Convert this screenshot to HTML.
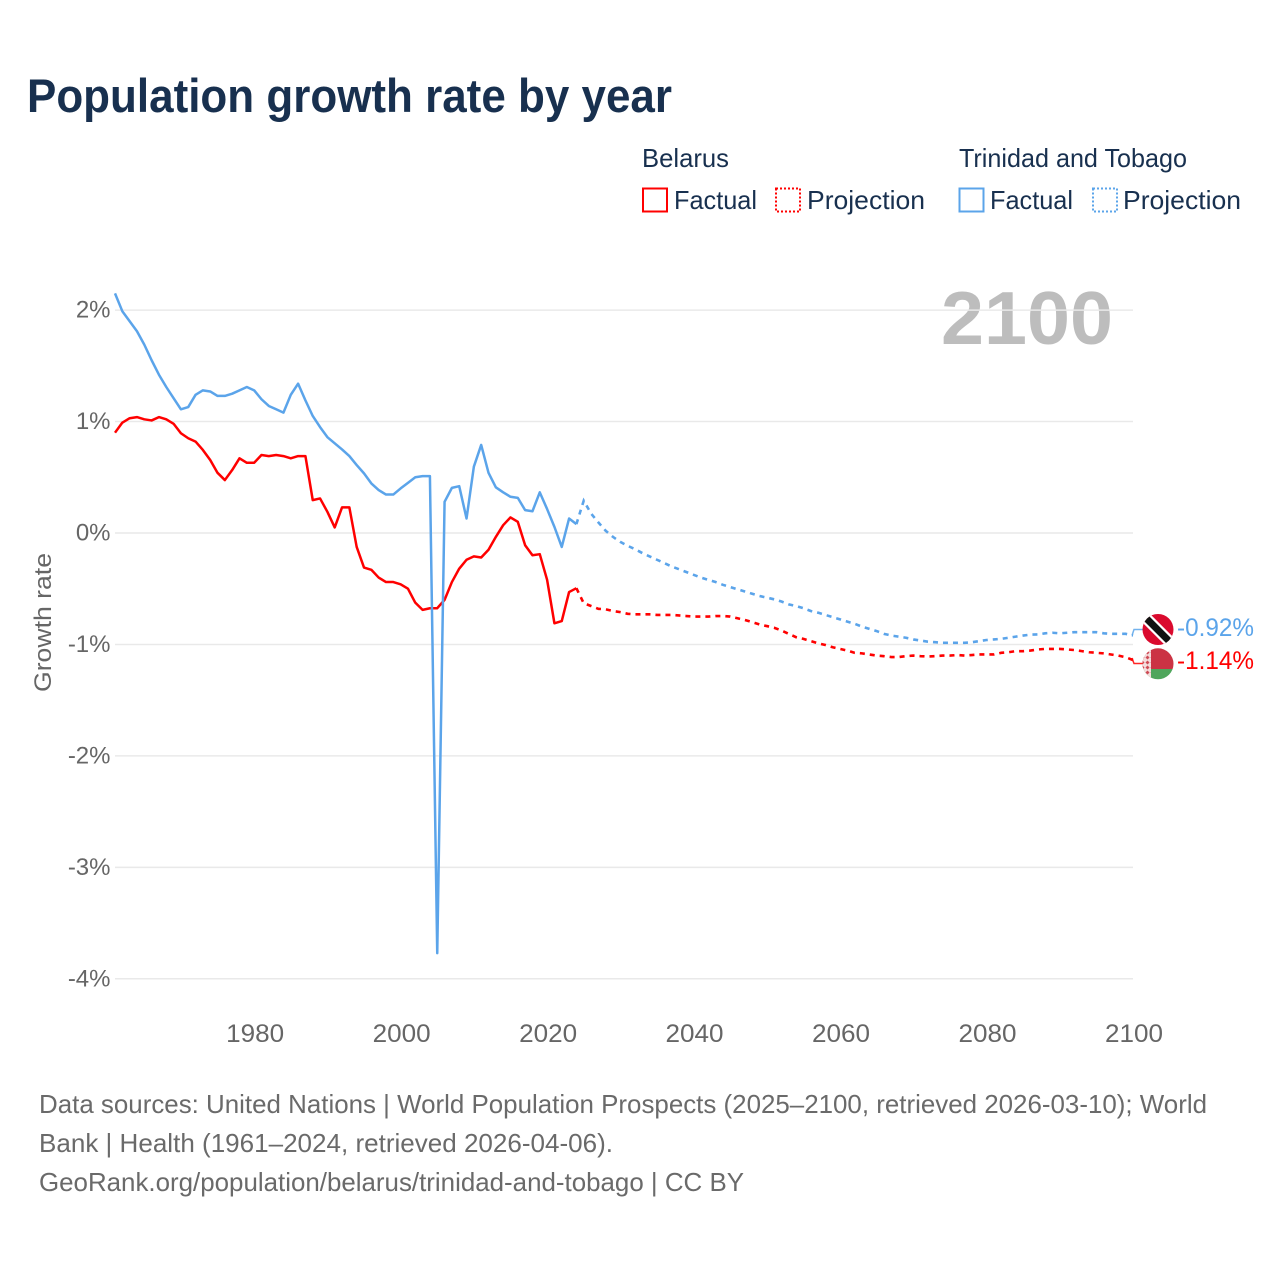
<!DOCTYPE html>
<html lang="en">
<head>
<meta charset="utf-8">
<title>Population growth rate by year</title>
<style>
html,body{margin:0;padding:0;background:#fff;width:1280px;height:1280px;overflow:hidden}
svg{display:block;font-family:"Liberation Sans",sans-serif}
</style>
</head>
<body>
<svg id="chart" xmlns="http://www.w3.org/2000/svg" width="1280" height="1280" viewBox="0 0 1280 1280">
  <defs>
    <clipPath id="clip-tt"><circle cx="1158" cy="629.500" r="15.500"/></clipPath>
    <clipPath id="clip-by"><circle cx="1158" cy="663.800" r="15.500"/></clipPath>
    <pattern id="by-ornament" width="5" height="5" patternUnits="userSpaceOnUse">
      <rect width="5" height="5" fill="#f4dcdc"/>
      <path d="M2.5 0.5L4.5 2.5L2.5 4.5L0.5 2.5Z" fill="#cf4a55"/>
    </pattern>
  </defs>
  <rect width="1280" height="1280" fill="#fff"/>
  <text x="27" y="112" font-size="47" font-weight="700" fill="#18304f" textLength="645" lengthAdjust="spacingAndGlyphs">Population growth rate by year</text>

  <g font-size="26" fill="#18304f">
    <text x="642" y="167" textLength="87" lengthAdjust="spacingAndGlyphs">Belarus</text>
    <rect x="643" y="188.500" width="24" height="23" fill="none" stroke="#ff0000" stroke-width="2"/>
    <text x="674" y="209" textLength="83" lengthAdjust="spacingAndGlyphs">Factual</text>
    <rect x="776" y="188.500" width="24" height="23" fill="none" stroke="#ff0000" stroke-width="2" stroke-dasharray="2 2"/>
    <text x="807" y="209" textLength="118" lengthAdjust="spacingAndGlyphs">Projection</text>
    <text x="959" y="167" textLength="228" lengthAdjust="spacingAndGlyphs">Trinidad and Tobago</text>
    <rect x="959.500" y="188.500" width="24" height="23" fill="none" stroke="#5ba4ea" stroke-width="2"/>
    <text x="990" y="209" textLength="83" lengthAdjust="spacingAndGlyphs">Factual</text>
    <rect x="1093" y="188.500" width="24" height="23" fill="none" stroke="#5ba4ea" stroke-width="2" stroke-dasharray="2 2"/>
    <text x="1123" y="209" textLength="118" lengthAdjust="spacingAndGlyphs">Projection</text>
  </g>

  <text x="941" y="344" font-size="75" font-weight="700" fill="#bdbdbd" textLength="172" lengthAdjust="spacingAndGlyphs">2100</text>
  <text transform="translate(51,692) rotate(-90)" font-size="24" fill="#666" textLength="139" lengthAdjust="spacingAndGlyphs">Growth rate</text>

  <g id="grid"></g>
  <g id="yticks"></g>
  <g id="xticks"></g>
  <g id="series"></g>

  <g clip-path="url(#clip-tt)">
    <rect x="1142" y="613" width="32" height="33" fill="#da0a2e"/>
    <path d="M1142 614L1174 646" stroke="#fff" stroke-width="11.500"/>
    <path d="M1142 614L1174 646" stroke="#111" stroke-width="7"/>
  </g>
  <g clip-path="url(#clip-by)">
    <rect x="1142" y="648" width="32" height="21" fill="#cb3344"/>
    <rect x="1142" y="669" width="32" height="11" fill="#4fa65c"/>
    <rect x="1142" y="648" width="9" height="32" fill="url(#by-ornament)"/>
  </g>
  <g id="labels"></g>

  <g font-size="26" fill="#6a6a6a">
    <text x="39" y="1113" textLength="1168" lengthAdjust="spacingAndGlyphs">Data sources: United Nations | World Population Prospects (2025–2100, retrieved 2026-03-10); World</text>
    <text x="39" y="1152" textLength="574" lengthAdjust="spacingAndGlyphs">Bank | Health (1961–2024, retrieved 2026-04-06).</text>
    <text x="39" y="1191" textLength="705" lengthAdjust="spacingAndGlyphs">GeoRank.org/population/belarus/trinidad-and-tobago | CC BY</text>
  </g>
</svg>
<script>
const firstFactualYear = 1961;
const firstProjectionYear = 2025;
const xTickYears = [1980, 2000, 2020, 2040, 2060, 2080, 2100];
const yTickValues = [2, 1, 0, -1, -2, -3, -4];
const yTickLabels = ["2%", "1%", "0%", "-1%", "-2%", "-3%", "-4%"];
const endLabels = ["-1.14%", "-0.92%"];

const belarusFactual = [
  0.90, 0.99, 1.03, 1.04, 1.02, 1.01, 1.04, 1.02, 0.98, 0.895,
  0.85, 0.82, 0.745, 0.655, 0.54, 0.475, 0.565, 0.67, 0.63, 0.63,
  0.70, 0.69, 0.70, 0.69, 0.67, 0.69, 0.69, 0.295, 0.31, 0.19,
  0.05, 0.23, 0.23, -0.125, -0.31, -0.33, -0.40, -0.44, -0.44, -0.46,
  -0.50, -0.625, -0.69, -0.675, -0.675, -0.60, -0.44, -0.32, -0.24, -0.21,
  -0.22, -0.15, -0.035, 0.07, 0.14, 0.10, -0.11, -0.20, -0.19, -0.42,
  -0.81, -0.79, -0.53, -0.495
];
const belarusProjection = [
  -0.63, -0.655, -0.68, -0.685, -0.70, -0.71,
  -0.725, -0.73, -0.73, -0.73, -0.735, -0.735, -0.735, -0.74, -0.745, -0.75,
  -0.75, -0.75, -0.745, -0.745, -0.75, -0.765, -0.78, -0.80, -0.82, -0.835,
  -0.85, -0.875, -0.905, -0.935, -0.95, -0.97, -0.99, -1.005, -1.025, -1.04,
  -1.055, -1.075, -1.08, -1.09, -1.10, -1.105, -1.113, -1.113, -1.105, -1.10,
  -1.105, -1.108, -1.105, -1.10, -1.10, -1.095, -1.10, -1.095, -1.09, -1.09,
  -1.09, -1.075, -1.07, -1.06, -1.06, -1.055, -1.045, -1.04, -1.04, -1.04,
  -1.045, -1.05, -1.06, -1.07, -1.075, -1.08, -1.09, -1.10, -1.115, -1.14
];
const trinidadFactual = [
  2.15, 1.99, 1.90, 1.81, 1.69, 1.55, 1.42, 1.31, 1.21, 1.11,
  1.13, 1.24, 1.28, 1.27, 1.23, 1.23, 1.25, 1.28, 1.31, 1.28,
  1.20, 1.14, 1.11, 1.08, 1.24, 1.34, 1.19, 1.05, 0.95, 0.86,
  0.805, 0.75, 0.69, 0.61, 0.535, 0.445, 0.385, 0.345, 0.345, 0.40,
  0.45, 0.50, 0.51, 0.51, -3.77, 0.28, 0.405, 0.42, 0.13, 0.595,
  0.79, 0.54, 0.41, 0.365, 0.325, 0.315, 0.205, 0.195, 0.365, 0.215,
  0.055, -0.125, 0.13, 0.08
];
const trinidadProjection = [
  0.29, 0.175, 0.095, 0.02, -0.035, -0.08,
  -0.115, -0.145, -0.18, -0.21, -0.24, -0.27, -0.30, -0.325, -0.35, -0.375,
  -0.40, -0.42, -0.44, -0.465, -0.485, -0.505, -0.525, -0.545, -0.565, -0.58,
  -0.595, -0.615, -0.64, -0.655, -0.675, -0.70, -0.715, -0.735, -0.755, -0.775,
  -0.795, -0.815, -0.84, -0.86, -0.88, -0.905, -0.92, -0.93, -0.94, -0.955,
  -0.965, -0.975, -0.98, -0.985, -0.985, -0.985, -0.985, -0.98, -0.97, -0.96,
  -0.955, -0.95, -0.94, -0.93, -0.92, -0.912, -0.91, -0.90, -0.895, -0.90,
  -0.895, -0.89, -0.89, -0.89, -0.89, -0.90, -0.905, -0.905, -0.905, -0.92
];

const NS = "http://www.w3.org/2000/svg";
const RED = "#ff0000";
const BLUE = "#5ba4ea";
const plotLeft = 115;
const plotRight = 1133;

function xScale(year) {
  return plotLeft + (year - firstFactualYear) * (plotRight - plotLeft) / 139;
}
function yScale(value) {
  return 533 - value * 111.45;
}
function make(parent, tag, attrs, text) {
  const el = document.createElementNS(NS, tag);
  for (const key in attrs) el.setAttribute(key, attrs[key]);
  if (text !== undefined) el.textContent = text;
  parent.appendChild(el);
  return el;
}
function linePath(values, startYear) {
  return values.map((v, i) => (i ? "L" : "M") + xScale(startYear + i).toFixed(2) + " " + yScale(v).toFixed(2)).join("");
}

const gridGroup = document.getElementById("grid");
const yTickGroup = document.getElementById("yticks");
yTickValues.forEach((v, i) => {
  const line = make(gridGroup, "line", {x1: plotLeft, x2: plotRight, y1: yScale(v), y2: yScale(v), stroke: "#e9e9e9", "stroke-width": 1.5});
  
  
  const label = make(yTickGroup, "text", {x: 110.5, y: yScale(v) + 7.5, "text-anchor": "end", "font-size": 24, fill: "#666"}, yTickLabels[i]);
  
  
});

const xTickGroup = document.getElementById("xticks");
xTickYears.forEach((year) => {
  const label = make(xTickGroup, "text", {x: xScale(year) + 1, y: 1042, "text-anchor": "middle", "font-size": 25, fill: "#666", textLength: 58, lengthAdjust: "spacingAndGlyphs"}, String(year));
  
  
});

const seriesGroup = document.getElementById("series");

const belarusFactualLine = make(seriesGroup, "path", {d: linePath(belarusFactual, firstFactualYear), fill: "none", stroke: RED, "stroke-width": 2.500, "stroke-linejoin": "round"});



const belarusProjectionLine = make(seriesGroup, "path", {d: linePath([belarusFactual[belarusFactual.length - 1]].concat(belarusProjection), firstProjectionYear - 1), fill: "none", stroke: RED, "stroke-width": 2.600, "stroke-dasharray": "5 5"});



const trinidadFactualLine = make(seriesGroup, "path", {d: linePath(trinidadFactual, firstFactualYear), fill: "none", stroke: BLUE, "stroke-width": 2.500, "stroke-linejoin": "round"});



const trinidadProjectionLine = make(seriesGroup, "path", {d: linePath([trinidadFactual[trinidadFactual.length - 1]].concat(trinidadProjection), firstProjectionYear - 1), fill: "none", stroke: BLUE, "stroke-width": 2.600, "stroke-dasharray": "5 5"});



const belarusEndY = yScale(belarusProjection[belarusProjection.length - 1]);
const trinidadEndY = yScale(trinidadProjection[trinidadProjection.length - 1]);

const belarusConnector = make(seriesGroup, "path", {d: "M" + (plotRight - 1) + " " + (belarusEndY - 2) + "L1134 663.500L1143 663.500", fill: "none", stroke: RED, "stroke-width": 1.500, opacity: 0.85});



const trinidadConnector = make(seriesGroup, "path", {d: "M" + (plotRight - 1) + " " + trinidadEndY + "L1134 629.500L1143 629.500", fill: "none", stroke: BLUE, "stroke-width": 1.500, opacity: 0.85});



const labelGroup = document.getElementById("labels");
const belarusEndLabel = make(labelGroup, "text", {x: 1177, y: 669, "font-size": 25, fill: RED, textLength: 77, lengthAdjust: "spacingAndGlyphs"}, endLabels[0]);



const trinidadEndLabel = make(labelGroup, "text", {x: 1177, y: 636, "font-size": 25, fill: BLUE, textLength: 77, lengthAdjust: "spacingAndGlyphs"}, endLabels[1]);


</script>
</body>
</html>
